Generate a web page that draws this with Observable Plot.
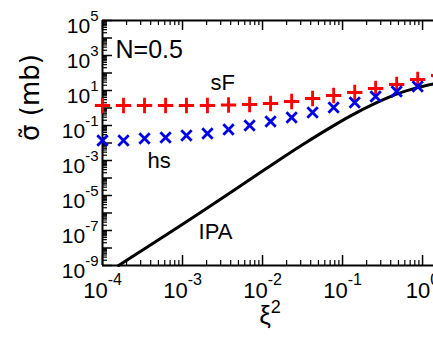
<!DOCTYPE html>
<html><head><meta charset="utf-8">
<script src="https://cdn.jsdelivr.net/npm/d3@7"></script>
<script src="https://cdn.jsdelivr.net/npm/@observablehq/plot@0.6"></script>
<style>body{margin:0;background:#fff;} svg{display:block}</style>
</head><body><div id="chart"></div>
<script>
// x values (ξ²) of the marker series
const xi2 = [1.00e-4, 1.83e-4, 3.35e-4, 6.14e-4, 1.12e-3, 2.05e-3, 3.76e-3, 6.89e-3, 1.26e-2, 2.31e-2, 4.22e-2, 7.74e-2, 0.142, 0.259, 0.475, 0.869, 1.59];
// sF (red +)
const sF = [1.39, 1.39, 1.39, 1.39, 1.39, 1.39, 1.48, 1.58, 1.81, 2.35, 3.49, 5.18, 7.69, 13.0, 22.0, 42.5, 72];
// hs (blue x)
const hs = [0.0139, 0.0139, 0.0181, 0.0206, 0.0268, 0.0349, 0.0590, 0.100, 0.169, 0.286, 0.553, 1.07, 2.06, 4.54, 8.77, 16.9, 32.7];
// IPA (black line)
const ipaX = [1.585e-4, 1.679e-3, 0.01, 0.0316, 0.0631, 0.126, 0.251, 0.447, 0.794, 1.372];
const ipaY = [1e-9, 1.07e-6, 2.51e-4, 7.94e-3, 0.0562, 0.355, 1.78, 5.62, 13.2, 24.0];
// annotations
const annText = ["N=0.5", "sF", "hs", "IPA"];
const annX = [1.454e-4, 2.24e-3, 3.65e-4, 1.585e-3];
const annY = [2118, 28.6, 1e-3, 8.77e-8];
const annSize = [25, 22, 22, 22];
// ticks
const xDomain = [1e-4, 1.37];
const yDomain = [1e-9, 1e5];
const xMajor = [1e-4, 1e-3, 1e-2, 1e-1, 1];
const yMajor = [1e-9, 1e-8, 1e-7, 1e-6, 1e-5, 1e-4, 1e-3, 1e-2, 1e-1, 1, 1e1, 1e2, 1e3, 1e4, 1e5];
const yLabels = [1e5, 1e3, 1e1, 1e-1, 1e-3, 1e-5, 1e-7, 1e-9];
const minorOf = (majors, lim) => majors.flatMap(m => [2,3,4,5,6,7,8,9].map(k => k * m)).filter(v => v <= lim);
const xMinor = minorOf(xMajor, xDomain[1]);
const yMinor = minorOf(yMajor, yDomain[1]);

const pts = xi2.map((x, i) => ({x, sF: sF[i], hs: hs[i]}));
const ipa = ipaX.map((x, i) => ({x, y: ipaY[i]}));
const ann = annText.map((t, i) => ({t, x: annX[i], y: annY[i], s: annSize[i]}));

const W = 433, H = 338, mL = 102, mR = 0, mT = 20, mB = 73;
const fw = W - mL - mR, fh = H - mT - mB;
const fmt = d => "10^" + Math.round(Math.log10(d));

const plot = Plot.plot({
  width: W, height: H,
  marginLeft: mL, marginRight: mR, marginTop: mT, marginBottom: mB,
  style: {fontFamily: "'Liberation Sans', Arial, sans-serif", fontSize: "21px", background: "white", color: "black"},
  x: {type: "log", domain: xDomain},
  y: {type: "log", domain: yDomain},
  marks: [
    // tick marks (inward)
    Plot.tickX(xMajor, {x: d => d, insetTop: fh - 10, stroke: "black", strokeWidth: 1.5}),
    Plot.tickX(xMinor, {x: d => d, insetTop: fh - 5, stroke: "black", strokeWidth: 1.2}),
    Plot.tickX(xMajor, {x: d => d, insetBottom: fh - 10, stroke: "black", strokeWidth: 1.5}),
    Plot.tickX(xMinor, {x: d => d, insetBottom: fh - 5, stroke: "black", strokeWidth: 1.2}),
    Plot.tickY(yMajor, {y: d => d, insetRight: fw - 10, stroke: "black", strokeWidth: 1.5}),
    Plot.tickY(yMinor, {y: d => d, insetRight: fw - 5, stroke: "black", strokeWidth: 1.2}),
    // frame lines
    Plot.ruleY([yDomain[0]], {stroke: "black", strokeWidth: 2}),
    Plot.ruleY([yDomain[1]], {stroke: "black", strokeWidth: 2}),
    Plot.ruleX([xDomain[0]], {stroke: "black", strokeWidth: 2}),
    // axes labels
    Plot.axisX({ticks: xMajor, tickSize: 0, tickPadding: 17, tickFormat: fmt, fontSize: 22, label: null}),
    Plot.axisY({ticks: yLabels, tickSize: 0, tickPadding: 4, tickFormat: fmt, fontSize: 21, dy: 6, label: null}),
    // data
    Plot.line(ipa, {x: "x", y: "y", stroke: "black", strokeWidth: 3, curve: "monotone-x"}),
    Plot.dot(pts, {x: "x", y: "sF", symbol: "plus", r: 5, stroke: "#ff0000", strokeWidth: 2.8}),
    Plot.dot(pts, {x: "x", y: "hs", symbol: "times", r: 4.8, stroke: "#0000e6", strokeWidth: 2.8}),
    // annotations
    Plot.text(ann, {x: "x", y: "y", text: "t", fontSize: "s", textAnchor: "start", fill: "black"}),
    Plot.text(["σ̃ (mb)"], {text: d => d, frameAnchor: "left", rotate: -90, dx: -72, dy: -2, fontSize: 26, fontFamily: "'DejaVu Sans', sans-serif", fill: "black"}),
    Plot.text(["ξ^2"], {text: d => d, frameAnchor: "bottom", dy: 58, dx: 2, fontSize: 26, fill: "black"})
  ]
});

function supify(sel, expSize, raise) {
  sel.each(function() {
    const t = d3.select(this);
    const s = t.text();
    if (!s.includes("^")) return;
    const [b, e] = s.split("^");
    t.text(null);
    t.append("tspan").text(b);
    t.append("tspan").attr("dy", -raise).attr("font-size", expSize).text(e);
  });
}
supify(d3.select(plot).selectAll('g[aria-label="x-axis tick label"] text'), 16, 13);
supify(d3.select(plot).selectAll('g[aria-label="y-axis tick label"] text'), 15, 12);
supify(d3.select(plot).selectAll('g[aria-label="text"] text'), 18, 11);
document.getElementById("chart").append(plot);
</script>
</body></html>
